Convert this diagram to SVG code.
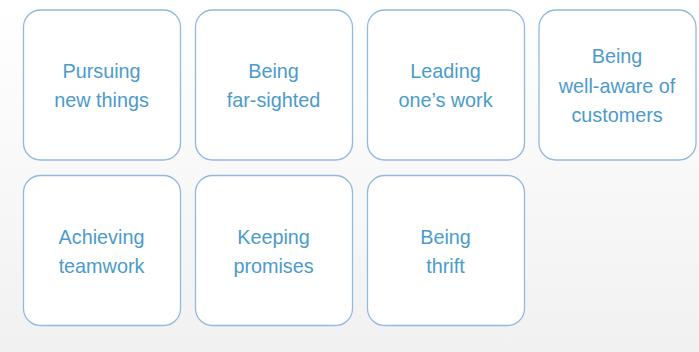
<svg xmlns="http://www.w3.org/2000/svg" width="699" height="352" viewBox="0 0 699 352">
<defs>
<linearGradient id="bg" x1="0" y1="0" x2="0" y2="1">
<stop offset="0" stop-color="#ffffff"/>
<stop offset="0.45" stop-color="#f9f9f9"/>
<stop offset="1" stop-color="#f1f1f1"/>
</linearGradient>
</defs>
<style>
.box{fill:#ffffff;stroke:#93b9de;stroke-width:1.3}
.t{font-family:"Liberation Sans",Arial,sans-serif;font-size:19.8px;fill:#4b9bcc;text-anchor:middle}
</style>
<rect x="0" y="0" width="699" height="352" fill="url(#bg)"/>
<g id="connectors"/>
<g id="n1"><rect class="box" x="23.5" y="10" width="157" height="150" rx="17"/><text class="t" x="101.5" y="78">Pursuing</text><text class="t" x="101.5" y="107">new things</text></g>
<g id="n2"><rect class="box" x="195.5" y="10" width="157" height="150" rx="17"/><text class="t" x="273.5" y="78">Being</text><text class="t" x="273.5" y="107">far-sighted</text></g>
<g id="n3"><rect class="box" x="367.5" y="10" width="157" height="150" rx="17"/><text class="t" x="445.5" y="78">Leading</text><text class="t" x="445.5" y="107">one’s work</text></g>
<g id="n4"><rect class="box" x="539" y="10" width="157" height="150" rx="17"/><text class="t" x="617" y="63">Being</text><text class="t" x="617" y="92.5">well-aware of</text><text class="t" x="617" y="122">customers</text></g>
<g id="n5"><rect class="box" x="23.5" y="175.5" width="157" height="150" rx="17"/><text class="t" x="101.5" y="243.5">Achieving</text><text class="t" x="101.5" y="272.5">teamwork</text></g>
<g id="n6"><rect class="box" x="195.5" y="175.5" width="157" height="150" rx="17"/><text class="t" x="273.5" y="243.5">Keeping</text><text class="t" x="273.5" y="272.5">promises</text></g>
<g id="n7"><rect class="box" x="367.5" y="175.5" width="157" height="150" rx="17"/><text class="t" x="445.5" y="243.5">Being</text><text class="t" x="445.5" y="272.5">thrift</text></g>
</svg>
